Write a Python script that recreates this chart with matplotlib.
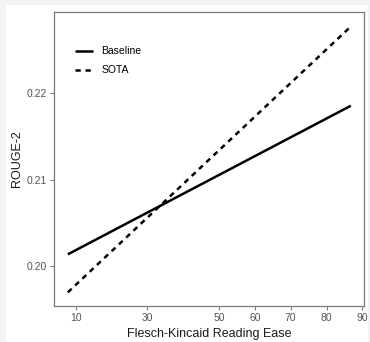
import matplotlib
matplotlib.use("Agg")
import matplotlib.pyplot as plt
from matplotlib.patches import Rectangle

plt.rcParams['font.family'] = ['Liberation Sans', 'DejaVu Sans']

series = ["Baseline", "SOTA"]
x_vals = [7.8, 86.8]
baseline_y = [0.20135, 0.21856]
sota_y = [0.19695, 0.22774]
x_ticks = [10, 30, 50, 60, 70, 80, 90]
y_ticks = [0.20, 0.21, 0.22]
y_tick_labels = ["0.20", "0.21", "0.22"]

W, H = 370, 342
fig = plt.figure(figsize=(W / 100, H / 100), dpi=100)
fig.patch.set_facecolor('#f3f3f3')

bg = fig.add_axes([6 / W, 0, (368 - 6) / W, (342 - 5) / H], zorder=-10)
bg.set_facecolor('white')
bg.set_axis_off()
bg.add_patch(Rectangle((0, 0), 1, 1, transform=bg.transAxes, facecolor='white', edgecolor='none'))

left, right, top, bottom = 54.3, 364.3, 12.3, 305.7
ax = fig.add_axes([left / W, (H - bottom) / H, (right - left) / W, (bottom - top) / H])
ax.set_facecolor('white')

ax.plot(x_vals, baseline_y, color='black', lw=1.8, solid_capstyle='butt', label=series[0])
ax.plot(x_vals, sota_y, color='black', lw=1.8, dashes=(2.1, 1.9), dash_capstyle='butt', label=series[1])

ax.set_xlim(4.02, 90.55)
ax.set_ylim(0.19540, 0.22938)
ax.set_xticks(x_ticks)
ax.set_xticklabels([str(t) for t in x_ticks])
ax.set_yticks(y_ticks)
ax.set_yticklabels(y_tick_labels)

for s in ax.spines.values():
    s.set_color('#7a7a7a')
    s.set_linewidth(0.9)
ax.tick_params(axis='both', colors='#7a7a7a', labelcolor='#555555', labelsize=7.5,
               length=3, width=0.8, pad=2)

ax.set_xlabel("Flesch-Kincaid Reading Ease", fontsize=9, color='#1a1a1a', labelpad=3.5)
ax.set_ylabel("ROUGE-2", fontsize=9, color='#1a1a1a', labelpad=3)

leg = ax.legend(loc='upper left', bbox_to_anchor=(0.0668, 0.8845), frameon=False,
                fontsize=7.5, handlelength=1.75, handletextpad=0.77, labelspacing=0.87,
                borderaxespad=0, borderpad=0)

fig.savefig("out.png", dpi=100, facecolor=fig.get_facecolor())
